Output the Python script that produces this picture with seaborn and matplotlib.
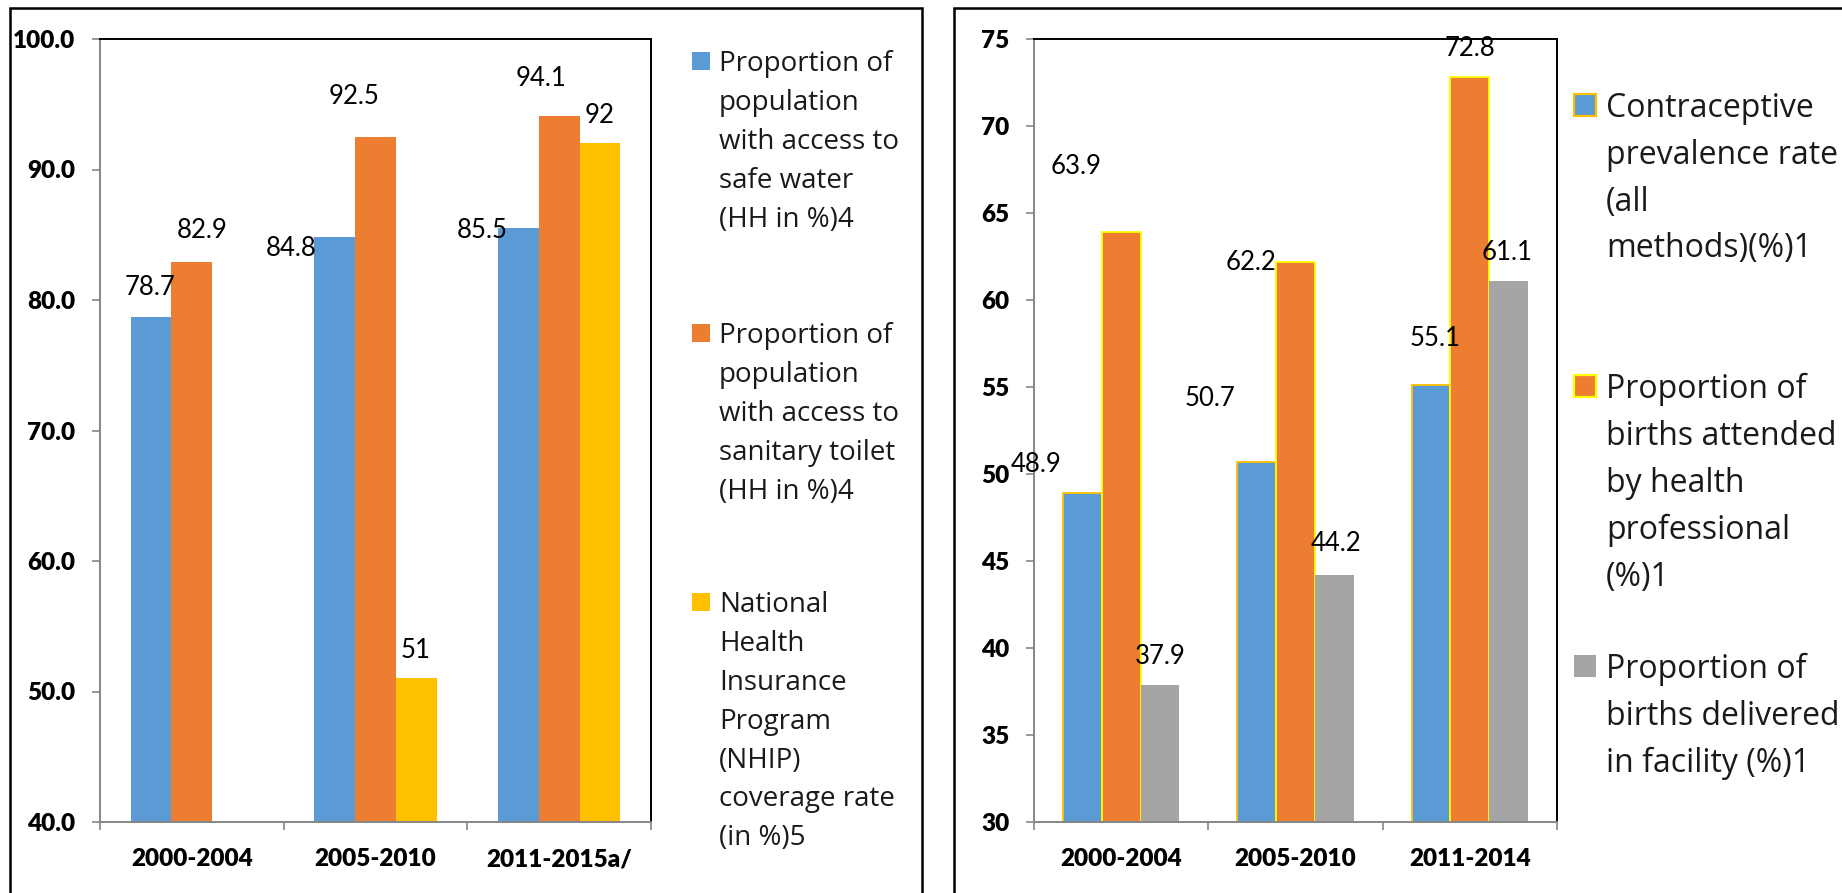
import numpy as np
import pandas as pd
import matplotlib
matplotlib.use("Agg")
import matplotlib.pyplot as plt
from matplotlib.patches import Rectangle
import seaborn as sns

# ---- data -------------------------------------------------------------
periods_left = ["2000-2004", "2005-2010", "2011-2015a/"]
safe_water = [78.7, 84.8, 85.5]
sanitary_toilet = [82.9, 92.5, 94.1]
nhip_coverage = [None, 51, 92]

periods_right = ["2000-2004", "2005-2010", "2011-2014"]
contraceptive = [48.9, 50.7, 55.1]
births_attended = [63.9, 62.2, 72.8]
births_facility = [37.9, 44.2, 61.1]

left_series = [
    "Proportion of\npopulation\nwith access to\nsafe water\n(HH in %)4",
    "Proportion of\npopulation\nwith access to\nsanitary toilet\n(HH in %)4",
    "National\nHealth\nInsurance\nProgram\n(NHIP)\ncoverage rate\n(in %)5",
]
right_series = [
    "Contraceptive\nprevalence rate\n(all\nmethods)(%)1",
    "Proportion of\nbirths attended\nby health\nprofessional\n(%)1",
    "Proportion of\nbirths delivered\nin facility (%)1",
]

left_yticks = [40.0, 50.0, 60.0, 70.0, 80.0, 90.0, 100.0]
right_yticks = [30, 35, 40, 45, 50, 55, 60, 65, 70, 75]


def long_frame(periods, series_names, columns):
    rows = []
    for name, vals in zip(series_names, columns):
        for p, v in zip(periods, vals):
            if v is not None:
                rows.append({"period": p, "series": name, "value": v})
    return pd.DataFrame(rows)


df_left = long_frame(periods_left, left_series, [safe_water, sanitary_toilet, nhip_coverage])
df_right = long_frame(periods_right, right_series, [contraceptive, births_attended, births_facility])

# ---- style ------------------------------------------------------------
BLUE, ORANGE, GOLD, GREY = "#5B9BD5", "#ED7D31", "#FFC000", "#A5A5A5"
YELLOW = "#FFFF00"
AXIS_GREY = "#868686"

sns.set_theme(style="white")
plt.rcParams["font.family"] = ["Lato", "DejaVu Sans"]

W, H = 1842, 893
fig = plt.figure(figsize=(W / 100, H / 100), dpi=100)
fig.patch.set_facecolor("white")


def fx(px):
    return px / W


def fy(py):
    return 1 - py / H


def axes_rect(x0, x1, y_top, y_bot):
    return [fx(x0), fy(y_bot), (x1 - x0) / W, (y_bot - y_top) / H]


# panel frames
fig.add_artist(Rectangle((fx(10), fy(905)), (922 - 10) / W, (905 - 8) / H,
                         transform=fig.transFigure, fill=False, ec="black", lw=1.8))
fig.add_artist(Rectangle((fx(954), fy(905)), (1860 - 954) / W, (905 - 8) / H,
                         transform=fig.transFigure, fill=False, ec="black", lw=1.8))

ax_l = fig.add_axes(axes_rect(100, 651, 39, 822))
ax_r = fig.add_axes(axes_rect(1034, 1557, 39, 822))


def draw_panel(ax, df, periods, series, palette, edges, ylim, yticks, yfmt):
    sns.barplot(data=df, x="period", y="value", hue="series",
                order=periods, hue_order=series, palette=palette,
                width=0.667, saturation=1, errorbar=None, legend=False, ax=ax)
    for cont, ec in zip(ax.containers, edges):
        for p in cont:
            if ec is None:
                p.set_edgecolor("none")
                p.set_linewidth(0)
            else:
                p.set_edgecolor(ec)
                p.set_linewidth(1.3)
    ax.set_ylim(*ylim)
    ax.set_xlim(-0.5, 2.5)
    ax.set_yticks(yticks)
    ax.set_yticklabels([yfmt.format(t) for t in yticks])
    ax.set_xlabel("")
    ax.set_ylabel("")
    ax.set_xticks([0, 1, 2])
    ax.set_xticks([-0.5, 0.5, 1.5, 2.5], minor=True)
    ax.tick_params(axis="x", which="major", length=0, pad=19, labelsize=17.5)
    ax.tick_params(axis="x", which="minor", length=8 * 0.72, width=1.2,
                   color=AXIS_GREY, direction="out", bottom=True)
    ax.tick_params(axis="y", length=8 * 0.72, width=1.2, color=AXIS_GREY,
                   direction="out", left=True, pad=12, labelsize=17.5)
    for lab in ax.get_xticklabels() + ax.get_yticklabels():
        lab.set_fontweight("heavy")
        lab.set_color("black")
    for side in ("top", "right"):
        ax.spines[side].set_color("black")
        ax.spines[side].set_linewidth(1.4)
    for side in ("left", "bottom"):
        ax.spines[side].set_color(AXIS_GREY)
        ax.spines[side].set_linewidth(1.4)
    ax.grid(False)


draw_panel(ax_l, df_left, periods_left, left_series,
           [BLUE, ORANGE, GOLD], [None, None, None],
           (40, 100), left_yticks, "{:.1f}")
draw_panel(ax_r, df_right, periods_right, right_series,
           [BLUE, ORANGE, GREY], [GOLD, YELLOW, None],
           (30, 75), right_yticks, "{:d}")

# value labels: pixel offsets (dx, dy up) from each bar's top centre
left_offsets = {
    (0, 0): (-1, 29), (0, 1): (-43, -11), (0, 2): (-36, -2),
    (1, 0): (10, 32), (1, 1): (-21, 40), (1, 2): (-18, 37),
    (2, 1): (-1, 28), (2, 2): (0, 28),
}
right_offsets = {
    (0, 0): (-46, 29), (0, 1): (-47, 63), (0, 2): (4, 47),
    (1, 0): (-45, 66), (1, 1): (-45, -1), (1, 2): (0, 29),
    (2, 0): (0, 28), (2, 1): (2, 31), (2, 2): (-1, 28),
}


def label_bars(ax, offsets):
    for s, cont in enumerate(ax.containers):
        for p in cont:
            cx = p.get_x() + p.get_width() / 2
            h = p.get_height()
            cat = int(round(cx))
            dx, dy = offsets.get((s, cat), (0, 28))
            ax.annotate(f"{h:g}", xy=(cx, h), xytext=(dx, dy),
                        textcoords="offset pixels", ha="center", va="center",
                        fontsize=18.5, color="black", annotation_clip=False)


label_bars(ax_l, left_offsets)
label_bars(ax_r, right_offsets)

# legends: square swatch beside each multi-line entry
def draw_legend(entries, colors, edgecolors, sw_x, sw_size, text_x, centers, fsize, lspace):
    for name, col, ec, cy in zip(entries, colors, edgecolors, centers):
        fig.add_artist(Rectangle((fx(sw_x), fy(cy + sw_size / 2)), sw_size / W, sw_size / H,
                                 transform=fig.transFigure, fc=col,
                                 ec=ec if ec else "none", lw=1.6 if ec else 0))
        top = cy - 0.40 * fsize / 0.72
        fig.text(fx(text_x), fy(top), name, ha="left", va="top",
                 fontsize=fsize, family=["Open Sans", "DejaVu Sans"],
                 color="#1a1a1a", linespacing=lspace)


draw_legend(left_series, [BLUE, ORANGE, GOLD], [None, None, None],
            692, 18, 719, [61, 333, 602], 20, 1.52)
draw_legend(right_series, [BLUE, ORANGE, GREY], [GOLD, YELLOW, None],
            1574, 22, 1606, [105, 386, 666], 23, 1.55)

fig.savefig("out.png", dpi=100, facecolor="white")
